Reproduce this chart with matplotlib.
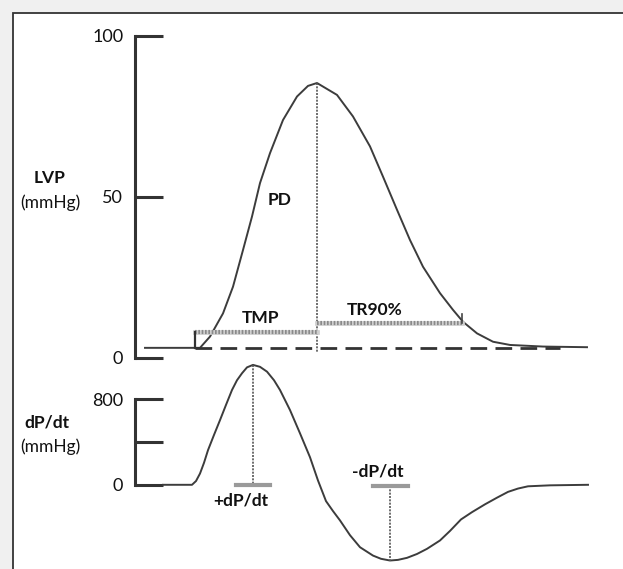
import matplotlib.pyplot as plt
from matplotlib.patches import Rectangle

plt.rcParams['font.family'] = ['Lato', 'DejaVu Sans']

# time axis (ms from start of trace)
lvp_t = [10, 65, 75, 88, 98, 108, 117, 125, 135, 148, 162, 173, 182,
         202, 218, 235, 248, 262, 275, 288, 305, 318, 328, 342, 358, 375, 408, 452]
lvp_val = [3, 3, 6.5, 13.7, 22, 33.4, 43.8, 54.2, 63.5, 73.8, 81.1, 84.4, 85.3,
           81.6, 74.9, 65.6, 56.2, 45.9, 36.5, 28.2, 20, 14.8, 11.1, 7.5, 4.9, 3.9, 3.4, 3.2]

dpdt_t = [28, 57, 61, 65, 69, 73, 79, 85, 91, 97, 102, 107, 112, 118, 125, 132, 139, 145,
          155, 165, 175, 183, 191, 198, 205, 215, 225, 238, 246, 255, 263, 272, 282, 292,
          305, 315, 326, 337, 350, 362, 373, 383, 393, 415, 453]
dpdt_val = [0, 0, 35, 105, 205, 323, 465, 603, 745, 884, 975, 1040, 1095, 1118, 1100, 1055,
            975, 884, 697, 480, 257, 40, -152, -245, -332, -470, -582, -660, -690, -706, -700,
            -681, -645, -597, -519, -430, -323, -255, -182, -120, -66, -35, -14, -5, 0]

baseline = 3
peak_t, peak_val = 182, 85.3
tmp_start, tmp_level = 60, 8.0
tr90_end, tr90_level = 327, 10.6
dash_end = 425

max_t, max_dpdt = 118, 1118
min_t, min_dpdt = 255, -706

W, H = 623, 569
fig = plt.figure(figsize=(W / 100, H / 100), dpi=100)
fig.patch.set_facecolor('#f0f0f0')
fig.patches.append(Rectangle((13 / W, -0.1), 1.2, 1.1 - 13 / H, transform=fig.transFigure,
                             facecolor='white', edgecolor='#333333', lw=1.3, zorder=-10))

x0, x1 = 135, 623
ax1 = fig.add_axes([x0 / W, 1 - 357.5 / H, (x1 - x0) / W, (357.5 - 35.7) / H])
ax2 = fig.add_axes([x0 / W, 1 - 484.8 / H, (x1 - x0) / W, (484.8 - 399) / H])

curve = dict(color='#3c3c3c', lw=1.4, clip_on=False)
dotted = dict(color='#555555', lw=1.2, ls=(0, (1.2, 0.8)), clip_on=False)

for ax in (ax1, ax2):
    ax.set_xlim(0, x1 - x0)
    ax.patch.set_visible(False)
    for s in ('top', 'right', 'bottom'):
        ax.spines[s].set_visible(False)
    ax.spines['left'].set_linewidth(2.2)
    ax.spines['left'].set_color('#333333')
    ax.set_xticks([])
    ax.tick_params(axis='y', direction='in', length=20, width=2.2, color='#333333',
                   pad=8.5, labelsize=13, labelcolor='#111111')

# LVP panel
ax1.set_ylim(0, 100)
ax1.spines['left'].set_bounds(0, 100)
ax1.set_yticks([0, 50, 100])
ax1.plot(lvp_t, lvp_val, **curve)
ax1.plot([tmp_start, dash_end], [baseline, baseline], color='#333333', lw=2,
         dashes=(6, 3), clip_on=False)
ax1.plot([peak_t, peak_t], [peak_val, baseline - 1.3], **dotted)
# TMP and TR90% bars
for xs, ys in (([tmp_start, peak_t], [tmp_level, tmp_level]),
               ([peak_t, tr90_end], [tr90_level, tr90_level])):
    ax1.plot(xs, ys, color='#cfcfcf', lw=3.4, clip_on=False)
    ax1.plot(xs, ys, color='#8a8a8a', lw=3, ls=(0, (0.4, 0.4)), clip_on=False)
ax1.plot([tmp_start, tmp_start], [baseline, tmp_level], color='#333333', lw=1.6)
ax1.plot([tr90_end, tr90_end], [tr90_level, 13.5], color='#444444', lw=1.2)

lab = dict(fontsize=12.5, fontweight='bold', color='#111111', ha='center', va='center')
ax1.text(145, 49, 'PD', **lab)
ax1.text(125, 12.3, 'TMP', **lab)
ax1.text(240, 14.9, 'TR90%', **lab)

# dP/dt panel
ax2.set_ylim(0, 800)
ax2.spines['left'].set_bounds(0, 800)
ax2.set_yticks([0, 400, 800])
ax2.set_yticklabels(['0', '', '800'])
ax2.plot(dpdt_t, dpdt_val, **curve)
ax2.plot([max_t, max_t], [max_dpdt, 0], **dotted)
ax2.plot([min_t, min_t], [-10, min_dpdt], **dotted)
ax2.plot([101, 135], [0, 0], color='#9a9a9a', lw=3, clip_on=False)
ax2.plot([238, 273], [-10, -10], color='#9a9a9a', lw=3, clip_on=False)
ax2.text(106, -142, '+dP/dt', **lab)
ax2.text(243, 122, '-dP/dt', **lab)

side = dict(fontsize=12.5, color='#111111', ha='center', va='center')
fig.text(50 / W, 1 - 178 / H, 'LVP', fontweight='bold', **side)
fig.text(50 / W, 1 - 203 / H, '(mmHg)', **side)
fig.text(47 / W, 1 - 423 / H, 'dP/dt', fontweight='bold', **side)
fig.text(50 / W, 1 - 447 / H, '(mmHg)', **side)

fig.savefig('out.png', dpi=100, facecolor=fig.get_facecolor())
